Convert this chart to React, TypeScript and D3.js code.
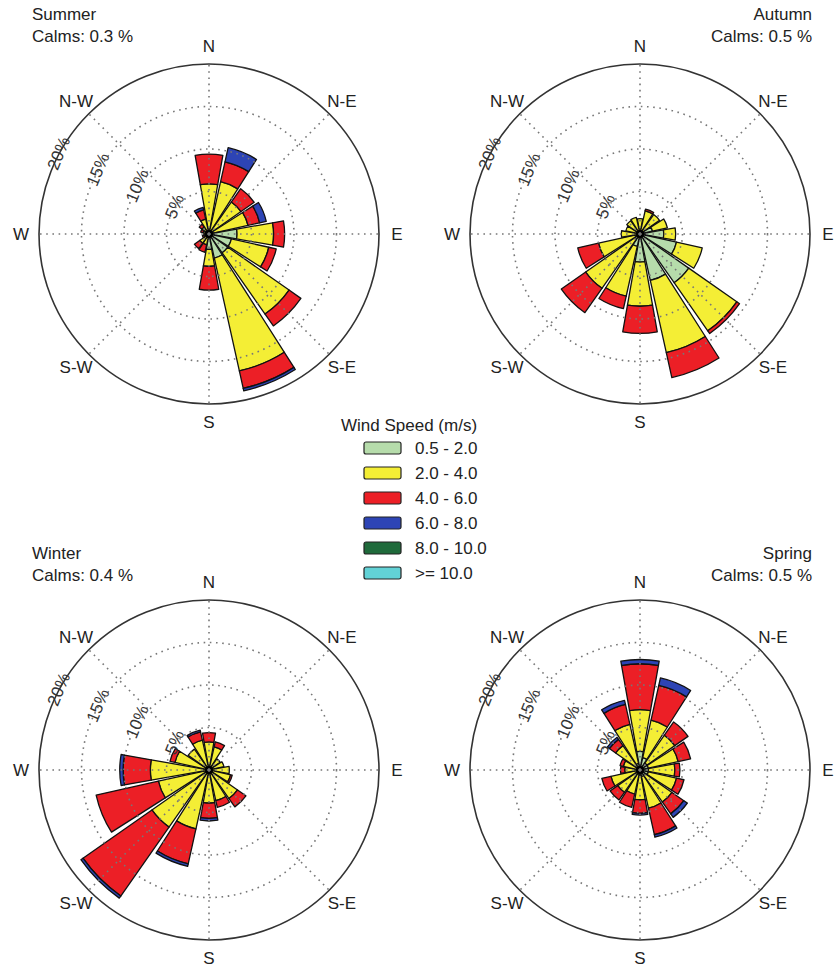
import React, { useEffect, useRef } from 'react';
import * as d3 from 'd3';

// 16 compass sectors, clockwise from north
const sectors = ['N', 'NNE', 'NE', 'ENE', 'E', 'ESE', 'SE', 'SSE', 'S', 'SSW', 'SW', 'WSW', 'W', 'WNW', 'NW', 'NNW'];
const compassLabels = ['N', 'N-E', 'E', 'S-E', 'S', 'S-W', 'W', 'N-W'];
const ringTicks = [5, 10, 15];
const ringLabels = ['5%', '10%', '15%', '20%'];
const speedBins = ['0.5 - 2.0', '2.0 - 4.0', '4.0 - 6.0', '6.0 - 8.0', '8.0 - 10.0', '>= 10.0'];
const binColors = ['#b6dcab', '#f4ee35', '#ec1f26', '#2d44b5', '#1f6a3b', '#62d2d6'];

// frequency (%) per sector, one value per speed bin
const summer = [
  [0.3, 5.6, 3.5], [0.4, 5.9, 2.4, 1.7], [0.4, 4.2, 1.9], [0.5, 4.2, 1.4, 0.8],
  [3.3, 4.3, 1.3], [2.7, 4.5, 0.9], [2.7, 8.8, 1.7], [2.9, 13.6, 2.1, 0.3],
  [1.8, 2.0, 2.8], [0.3, 1.0, 0.9], [0.3, 1.0, 0.8], [0.2, 0.4, 0.2],
  [0.2, 0.4], [0.2, 0.5, 0.3], [0.2, 0.8, 0.4], [0.3, 1.5, 1.1, 0.3],
];
const autumn = [
  [0.3, 1.5], [0.4, 2.4, 0.2], [0.4, 2.4], [1.5, 1.8],
  [2.8, 1.4], [4.4, 3.1], [7.0, 6.9, 0.4], [5.6, 8.7, 3.0],
  [3.3, 5.2, 3.2], [1.5, 6.0, 1.5], [0.8, 7.0, 3.5], [0.6, 4.4, 2.5],
  [0.4, 1.8], [0.3, 1.4], [0.3, 1.6], [0.3, 1.7],
];
const winter = [
  [0.3, 3.0, 1.1], [0.3, 2.5, 0.6], [0.3, 1.3], [0.3, 1.5],
  [0.4, 2.0], [0.4, 2.2, 0.2], [0.3, 3.8, 1.2], [0.3, 3.4, 0.8],
  [0.3, 3.6, 1.8, 0.3], [0.3, 6.8, 4.2, 0.3], [0.3, 7.9, 9.9, 0.3], [0.3, 5.8, 7.5],
  [0.3, 6.6, 3.2, 0.4], [0.3, 3.8, 0.6], [0.3, 2.7], [0.3, 3.3, 1.0, 0.2],
];
const spring = [
  [2.2, 4.9, 5.4, 0.5], [1.5, 4.5, 4.2, 0.9], [1.0, 4.0, 1.9], [1.0, 3.6, 1.5],
  [1.0, 3.1, 0.6], [1.0, 3.4, 0.9], [0.8, 3.8, 1.7, 0.5], [0.8, 3.8, 3.2, 0.3],
  [0.6, 2.9, 1.6, 0.2], [0.5, 2.4, 1.6], [0.5, 2.7, 1.1], [0.4, 3.1, 1.1],
  [0.4, 1.4, 0.5], [0.4, 1.6, 0.4], [0.5, 3.0, 0.9, 0.3], [0.8, 4.7, 2.4, 0.5],
];

const seasons = ['Summer', 'Autumn', 'Winter', 'Spring'];
const calms = ['0.3', '0.5', '0.4', '0.5'];
const seasonData = [summer, autumn, winter, spring];

const W = 836;
const H = 968;
const R = 170;
const centers = [[209, 234], [640, 234], [209, 770], [640, 770]];
const font = '"Liberation Sans", Arial, sans-serif';

export default function App() {
  const ref = useRef<SVGSVGElement>(null);

  useEffect(() => {
    const svg = d3.select(ref.current);
    svg.selectAll('*').remove();

    const r = d3.scaleLinear().domain([0, 20]).range([0, R]);
    const angle = d3.scaleLinear().domain([0, sectors.length]).range([0, 2 * Math.PI]);
    const half = (10 * Math.PI) / 180;

    seasonData.forEach((data, s) => {
      const [cx, cy] = centers[s];
      const g = svg.append('g').attr('transform', `translate(${cx},${cy})`);

      const segs: any[] = [];
      data.forEach((vals, i) => {
        const cum = d3.cumsum(vals);
        vals.forEach((v, k) => segs.push({ i, k, y0: cum[k] - v, y1: cum[k] }));
      });

      const arc = d3.arc<any>()
        .innerRadius(d => r(d.y0))
        .outerRadius(d => r(d.y1))
        .startAngle(d => angle(d.i) - half)
        .endAngle(d => angle(d.i) + half);

      g.selectAll('path.bar')
        .data(segs)
        .enter()
        .append('path')
        .attr('class', 'bar')
        .attr('d', arc)
        .attr('fill', d => binColors[d.k])
        .attr('stroke', '#111')
        .attr('stroke-width', 1.3)
        .attr('stroke-linejoin', 'round');

      g.append('circle').attr('r', 4).attr('fill', '#000');

      // dotted grid on top of the bars
      g.selectAll('circle.ring')
        .data(ringTicks)
        .enter()
        .append('circle')
        .attr('class', 'ring')
        .attr('r', d => r(d))
        .attr('fill', 'none')
        .attr('stroke', '#777')
        .attr('stroke-width', 1.6)
        .attr('stroke-dasharray', '1.6 4.6');

      g.selectAll('line.spoke')
        .data(d3.range(8))
        .enter()
        .append('line')
        .attr('class', 'spoke')
        .attr('x1', 0)
        .attr('y1', 0)
        .attr('x2', d => R * Math.sin((d * Math.PI) / 4))
        .attr('y2', d => -R * Math.cos((d * Math.PI) / 4))
        .attr('stroke', '#777')
        .attr('stroke-width', 1.6)
        .attr('stroke-dasharray', '1.6 4.6');

      g.append('circle')
        .attr('r', R)
        .attr('fill', 'none')
        .attr('stroke', '#333')
        .attr('stroke-width', 1.6);

      // radial labels
      const ra = (-67.5 * Math.PI) / 180;
      g.selectAll('text.rl')
        .data(ringLabels)
        .enter()
        .append('text')
        .attr('class', 'rl')
        .attr('transform', (d, i) => {
          const rr = r(5 * (i + 1));
          return `translate(${rr * Math.sin(ra)},${-rr * Math.cos(ra)}) rotate(-67.5)`;
        })
        .attr('dy', '0.35em')
        .attr('font-family', font)
        .attr('font-size', 17)
        .attr('fill', '#333')
        .text(d => d);

      // compass labels
      g.selectAll('text.cl')
        .data(compassLabels)
        .enter()
        .append('text')
        .attr('class', 'cl')
        .attr('x', (d, i) => 188 * Math.sin((i * Math.PI) / 4))
        .attr('y', (d, i) => -188 * Math.cos((i * Math.PI) / 4))
        .attr('dy', '0.35em')
        .attr('text-anchor', 'middle')
        .attr('font-family', font)
        .attr('font-size', 17)
        .attr('fill', '#222')
        .text(d => d);

      // title
      const right = s % 2 === 1;
      const tx = right ? 812 : 32;
      const ty = s < 2 ? 20 : 559;
      const title = svg.append('g')
        .attr('font-family', font)
        .attr('font-size', 17)
        .attr('fill', '#222')
        .attr('text-anchor', right ? 'end' : 'start');
      title.append('text').attr('x', tx).attr('y', ty).text(seasons[s]);
      title.append('text').attr('x', tx).attr('y', ty + 22).text(`Calms: ${calms[s]} %`);
    });

    // legend
    const lg = svg.append('g').attr('font-family', font).attr('font-size', 17).attr('fill', '#222');
    lg.append('text').attr('x', 341).attr('y', 431).text('Wind Speed (m/s)');
    const rows = lg.selectAll('g.row')
      .data(speedBins)
      .enter()
      .append('g')
      .attr('class', 'row')
      .attr('transform', (d, i) => `translate(0,${448 + i * 25})`);
    rows.append('rect')
      .attr('x', 364)
      .attr('y', -6)
      .attr('width', 37)
      .attr('height', 12)
      .attr('rx', 2)
      .attr('fill', (d, i) => binColors[i])
      .attr('stroke', '#222')
      .attr('stroke-width', 1.2);
    rows.append('text')
      .attr('x', 415)
      .attr('dy', '0.35em')
      .text(d => d);
  }, []);

  return (
    <svg
      ref={ref}
      width={W}
      height={H}
      style={{ position: 'absolute', left: 0, top: 0, background: '#fff' }}
    />
  );
}
